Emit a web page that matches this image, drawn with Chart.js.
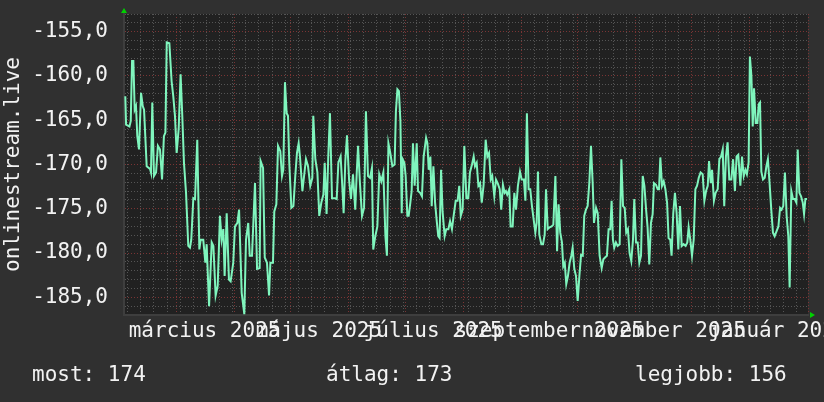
<!DOCTYPE html>
<html>
<head>
<meta charset="utf-8">
<script src="https://cdn.jsdelivr.net/npm/chart.js@4.4.1/dist/chart.umd.min.js"></script>
<style>
  html, body { margin: 0; padding: 0; background: #303030; }
  #wrap { width: 824px; height: 402px; position: relative; }
</style>
</head>
<body>
<div id="wrap"><canvas id="rankChart"></canvas></div>
<script>
// days since 2025-02-01 and daily rank (negated so that better is higher)
const days = [
  0.7, 1.1, 2.9, 3.6, 4.3, 5.0, 5.7, 6.4, 7.1, 8.0, 9.1, 9.6, 10.0, 10.7, 12.1, 13.9, 14.4, 15.1, 16.0, 17.1,
  18.1, 19.2, 20.3, 21.3, 22.1, 22.8, 24.2, 25.4, 26.3, 27.2, 28.1, 29.2, 30.2, 31.1, 32.0, 33.1, 34.3, 35.2, 35.9, 37.0,
  37.9, 39.1, 40.2, 40.9, 42.3, 43.4, 44.1, 45.4, 46.8, 47.7, 48.9, 50.0, 51.2, 52.1, 53.0, 53.7, 54.8, 56.0, 56.9, 58.3,
  59.2, 60.5, 61.4, 62.8, 64.2, 65.1, 66.3, 67.1, 68.3, 69.9, 71.0,
  72.4, 72.9, 74.2, 75.1, 76.3, 77.4, 78.1, 79.5, 80.2, 81.3, 82.2, 83.4, 84.3, 85.0, 85.9, 86.8, 87.5, 88.2, 89.3, 90.4,
  91.4, 92.3, 93.2, 93.9, 95.2, 96.1, 97.1, 98.2, 99.4, 100.5, 101.0, 102.1, 103.2, 104.2, 105.3, 106.4, 107.1, 108.1, 109.0, 109.9,
  111.0, 112.4, 113.5, 114.4, 115.6, 116.3, 117.2, 118.1, 119.0, 120.1, 121.1, 122.2, 123.4, 124.2, 124.9, 125.9, 127.0, 128.1, 129.1, 130.2,
  131.3, 132.3, 133.0, 134.1, 135.2, 136.2, 137.3, 138.4, 139.5, 140.3, 141.1, 142.1, 143.2, 144.4, 145.1,
  145.9, 146.7, 147.5, 148.2, 148.7, 149.6, 150.3, 151.2, 151.9, 152.8, 153.5, 154.2, 155.1, 156.2, 156.9, 158.0, 159.0, 159.9, 161.2, 161.9,
  162.6, 163.5, 164.2, 165.1, 166.0, 166.8, 167.7, 168.4, 169.2, 170.0, 171.1, 172.0, 173.1, 174.0, 175.0, 175.9, 177.0, 178.0, 178.9, 179.7,
  180.7, 181.6, 182.7, 183.7, 184.6, 185.7, 186.6, 187.3, 188.2, 189.1, 190.0, 190.9, 191.9, 193.0, 193.9, 194.8, 195.7, 196.5, 197.6, 198.5,
  199.4, 200.5, 201.3, 202.2, 203.1, 203.8, 204.5, 205.6, 206.3, 207.4, 208.3, 209.2, 210.2, 211.3, 212.2, 213.4, 214.2, 215.0, 215.9, 216.8,
  217.7, 218.6, 219.5,
  220.2, 220.9, 221.6, 222.7, 223.6, 224.5, 225.2, 226.1, 227.1, 228.2, 229.1, 230.2, 231.1, 231.9, 232.8, 233.7, 234.4, 235.2, 236.0, 236.9,
  237.8, 238.7, 239.4, 240.3, 241.2, 242.1, 243.0, 243.9, 244.8, 245.6, 246.5, 247.4, 248.3, 249.2, 250.1, 250.8, 251.9, 252.8, 253.8, 254.9,
  255.8, 256.7, 257.7, 258.6, 259.5, 260.2, 260.9, 261.6, 262.5, 263.4, 264.5, 265.4, 266.3, 267.2, 268.0, 268.9, 269.8, 270.7, 271.6, 272.3,
  273.2, 274.1, 275.0, 275.9, 276.8, 277.7, 278.6, 279.4, 280.3, 281.2, 282.1, 282.8, 283.9, 284.8, 285.5, 286.2, 287.1, 288.0, 288.9, 289.8,
  290.6, 291.5, 292.2,
  293.1, 294.0, 294.9, 295.8, 296.7, 297.6, 298.6, 299.7, 300.6, 301.3, 302.2, 303.1, 304.0, 304.9, 305.8, 306.7, 307.7, 308.8, 309.7, 310.6,
  311.5, 312.2, 313.1, 313.8, 314.8, 315.7, 316.8, 317.7, 318.6, 319.5, 320.3, 321.2, 322.1, 323.0, 324.1, 325.0, 326.0, 326.9, 327.8, 328.9,
  329.8, 330.7, 331.6, 332.4, 333.3, 334.0, 334.8, 335.5, 336.2, 337.1, 338.0, 338.7, 339.4, 340.1, 341.0, 341.9, 342.8, 343.6, 344.5, 345.4,
  346.3, 347.2, 348.3, 349.2, 350.1, 350.9, 351.8, 352.7, 353.6, 354.5, 355.2, 356.1, 357.0, 357.9, 358.8, 359.5, 360.4, 361.3, 362.2, 362.9,
  363.6, 364.5
];
const ranks = [
  -162.3, -165.5, -165.7, -165.1, -158.3, -158.3, -163.8, -163.4, -166.8, -168.3, -161.9, -161.9, -163.4, -163.8, -170.2, -170.5, -170.9, -163.0, -171.3, -170.9,
  -167.9, -168.3, -171.7, -166.8, -166.4, -156.2, -156.3, -160.6, -162.3, -164.5, -168.7, -165.9, -159.8, -164.5, -169.8, -173.2, -179.2, -179.4, -178.5, -173.8,
  -173.9, -167.2, -179.6, -178.5, -178.5, -181.1, -179.0, -186.0, -178.8, -179.2, -184.8, -183.7, -175.8, -178.5, -177.3, -182.6, -175.5, -183.0, -183.2, -181.1,
  -177.0, -176.6, -175.1, -184.5, -186.9, -178.5, -176.6, -180.3, -180.3, -172.1, -181.8,
  -181.7, -169.6, -170.4, -180.5, -181.1, -184.8, -181.1, -181.1, -175.3, -174.5, -167.9, -168.5, -171.3, -170.6, -160.7, -164.2, -164.5, -169.8, -174.9, -174.7,
  -171.3, -168.7, -167.6, -169.1, -173.0, -171.3, -169.4, -170.2, -172.4, -171.5, -164.5, -169.4, -170.9, -175.8, -174.3, -173.4, -169.8, -175.6, -169.1, -164.2,
  -173.8, -173.8, -173.9, -169.8, -169.1, -171.7, -175.5, -169.6, -166.7, -171.7, -173.9, -171.1, -175.1, -170.9, -167.9, -172.1, -175.8, -174.9, -164.0, -171.3,
  -171.5, -170.4, -179.6, -178.1, -177.0, -171.1, -171.9, -170.9, -178.1, -180.3, -167.6, -168.7, -170.2, -170.0, -164.0,
  -161.5, -161.7, -165.1, -175.5, -169.4, -169.8, -171.3, -175.8, -175.8, -174.3, -173.0, -167.6, -172.4, -167.6, -173.0, -173.2, -173.6, -169.1, -167.0, -167.6,
  -170.6, -169.1, -174.7, -170.2, -174.3, -176.2, -178.1, -178.3, -170.6, -175.3, -178.1, -177.3, -177.3, -176.4, -177.3, -175.8, -174.1, -174.1, -172.4, -175.8,
  -175.1, -167.9, -173.8, -173.8, -170.9, -170.0, -169.1, -170.2, -169.8, -172.4, -172.1, -174.3, -172.3, -167.2, -169.1, -168.7, -171.7, -171.3, -173.6, -171.7,
  -172.1, -172.8, -175.1, -172.3, -173.2, -173.0, -173.4, -172.8, -177.0, -177.0, -173.2, -175.1, -172.4, -170.8, -171.7, -171.7, -174.1, -164.2, -172.8, -172.8,
  -174.7, -176.2, -177.7,
  -176.6, -170.8, -177.9, -179.0, -179.0, -177.9, -172.8, -177.3, -177.1, -177.0, -176.8, -171.3, -179.8, -174.5, -177.7, -178.8, -181.5, -181.1, -183.5, -182.6,
  -181.1, -180.3, -179.4, -181.8, -182.6, -185.4, -182.6, -180.2, -180.3, -175.8, -175.1, -174.7, -172.1, -167.9, -172.1, -176.6, -174.9, -175.5, -180.3, -181.7,
  -180.7, -180.5, -180.3, -177.3, -177.3, -174.1, -178.5, -179.4, -178.8, -179.2, -179.0, -169.4, -174.7, -174.9, -177.7, -177.3, -180.0, -180.9, -178.5, -173.9,
  -178.8, -178.8, -181.1, -180.3, -171.3, -172.4, -175.1, -177.1, -181.3, -176.6, -175.6, -172.1, -172.3, -172.8, -172.8, -169.2, -172.4, -171.9, -172.8, -174.3,
  -178.3, -178.5, -180.3,
  -175.5, -173.2, -175.5, -179.6, -174.7, -179.2, -179.0, -179.2, -178.8, -177.1, -178.5, -180.3, -178.5, -172.8, -172.4, -171.5, -170.9, -171.1, -174.1, -173.0,
  -172.4, -169.6, -172.1, -170.6, -174.1, -173.2, -172.8, -169.4, -169.1, -168.3, -174.7, -169.1, -167.5, -171.7, -171.7, -169.4, -173.0, -169.1, -168.9, -172.4,
  -169.1, -171.3, -170.6, -171.1, -169.8, -157.8, -160.0, -165.7, -161.4, -165.3, -165.3, -163.2, -163.0, -170.8, -171.7, -171.5, -170.2, -169.4, -172.1, -175.1,
  -177.7, -178.1, -177.5, -177.0, -174.9, -175.1, -174.7, -170.9, -175.8, -178.1, -183.9, -173.0, -173.9, -173.9, -174.3, -168.3, -173.2, -173.6, -174.3, -175.6,
  -173.9, -173.9
];

// month starts (red grid), label positions (mid-month) and their texts
const monthStarts = [0, 28, 59, 89, 120, 150, 181, 212, 242, 273, 303, 334, 365];
const labelDays = [43, 104, 165, 227, 288, 349];
const labelTexts = ['március 2025', 'május 2025', 'július 2025', 'szeptember 2025', 'november 2025', 'január 2026'];
const firstMonday = 2;

const yMin = -187;
const yMax = -153;

const statLabels = ['most', 'átlag', 'legjobb'];
const statValues = [174, 173, 156];
const statX = [32, 326, 635];

const seriesName = 'onlinestream.live';

const FONT = 'DejaVu Sans Mono';
const OUTER = '#303030';
const PLOT = '#212121';
const GRID_MINOR = '#555555';
const GRID_MAJOR = '#7a3434';
const LINE = '#7ff5bd';

Chart.defaults.font.family = FONT;
Chart.defaults.font.size = 21;
Chart.defaults.color = '#f2f2f2';

const mondays = [];
for (let d = firstMonday; d <= 365; d += 7) {
  if (!monthStarts.includes(d)) mondays.push(d);
}

const background = {
  id: 'background',
  beforeDraw(chart) {
    const { ctx, chartArea: a } = chart;
    ctx.save();
    ctx.fillStyle = OUTER;
    ctx.fillRect(0, 0, chart.width, chart.height);
    ctx.fillStyle = PLOT;
    ctx.fillRect(a.left, a.top, a.right - a.left, a.bottom - a.top);
    ctx.restore();
  }
};

const extras = {
  id: 'extras',
  afterDraw(chart) {
    const { ctx, chartArea: a } = chart;
    ctx.save();
    // arrows at axis ends
    ctx.fillStyle = '#00d000';
    ctx.beginPath();
    ctx.moveTo(a.left - 3, a.top - 1);
    ctx.lineTo(a.left + 3, a.top - 1);
    ctx.lineTo(a.left, a.top - 6);
    ctx.closePath();
    ctx.fill();
    ctx.beginPath();
    ctx.moveTo(a.right + 2, a.bottom - 3);
    ctx.lineTo(a.right + 2, a.bottom + 3);
    ctx.lineTo(a.right + 7, a.bottom);
    ctx.closePath();
    ctx.fill();
    // stats line
    ctx.fillStyle = '#f2f2f2';
    ctx.font = '21px "' + FONT + '"';
    ctx.textBaseline = 'middle';
    ctx.textAlign = 'left';
    statLabels.forEach((l, i) => {
      ctx.fillText(l + ': ' + statValues[i], statX[i], 376);
    });
    ctx.restore();
  }
};

const ctx = document.getElementById('rankChart').getContext('2d');
const rankChart = new Chart(ctx, {
  type: 'line',
  data: {
    datasets: [{
      label: seriesName,
      data: days.map((d, i) => ({ x: d, y: ranks[i] })),
      borderColor: LINE,
      borderWidth: 2,
      pointRadius: 0,
      tension: 0,
      fill: false
    }]
  },
  options: {
    responsive: true,
    maintainAspectRatio: false,
    animation: false,
    layout: { padding: { top: 14, right: 16, left: 0, bottom: 0 } },
    plugins: {
      legend: { display: false },
      tooltip: { enabled: false }
    },
    scales: {
      x: {
        type: 'linear',
        min: 0,
        max: 365,
        afterBuildTicks(scale) {
          const vals = [...mondays, ...monthStarts, ...labelDays].sort((a, b) => a - b);
          scale.ticks = vals.map(v => ({ value: v }));
        },
        afterFit(scale) {
          scale.height = 87;
          scale.paddingLeft = 0;
          scale.paddingRight = 0;
        },
        ticks: {
          autoSkip: false,
          maxRotation: 0,
          minRotation: 0,
          padding: 4,
          callback: (v) => {
            const i = labelDays.indexOf(v);
            return i >= 0 ? labelTexts[i] : '';
          }
        },
        grid: {
          drawTicks: false,
          lineWidth: 1,
          color: (c) => {
            const v = c.tick && c.tick.value;
            if (monthStarts.includes(v)) return GRID_MAJOR;
            if (labelDays.includes(v)) return 'rgba(0,0,0,0)';
            return GRID_MINOR;
          }
        },
        border: { display: true, color: '#3e3e3e', width: 2, dash: [1, 2] }
      },
      y: {
        min: yMin,
        max: yMax,
        afterFit(scale) {
          scale.width = 124;
          scale.paddingTop = 0;
          scale.paddingBottom = 0;
        },
        ticks: {
          stepSize: 1,
          autoSkip: false,
          padding: 16,
          callback: (v) => (v % 5 === 0 ? v.toFixed(1).replace('.', ',') : '')
        },
        grid: {
          drawTicks: false,
          lineWidth: 1,
          color: (c) => (c.tick && c.tick.value % 5 === 0 ? GRID_MAJOR : GRID_MINOR)
        },
        border: { display: true, color: '#3e3e3e', width: 2, dash: [1, 2] },
        title: {
          display: true,
          text: seriesName,
          color: '#f2f2f2',
          font: { size: 21 },
          padding: { top: 1, bottom: 0 }
        }
      }
    }
  },
  plugins: [background, extras]
});
</script>
</body>
</html>
